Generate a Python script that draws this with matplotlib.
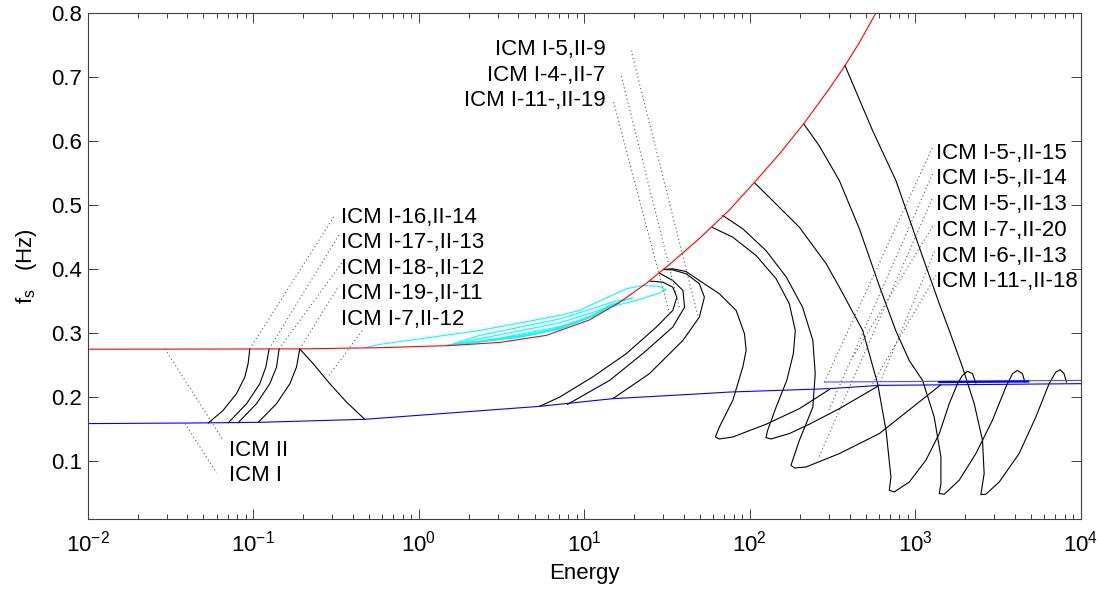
import numpy as np
import matplotlib
matplotlib.use("Agg")
import matplotlib.pyplot as plt

plt.rcParams["font.family"] = ["Liberation Sans", "DejaVu Sans"]
plt.rcParams["mathtext.default"] = "regular"

# backbone curves (energy, frequency in Hz)
icm1_E = [0.01, 0.191, 0.581, 1.537, 3.076, 5.89, 10.74, 16.29, 23.63, 32.64, 49.54,
          75.1, 106.3, 150.5, 211.2, 301.8, 375.4, 458.0, 569.6, 588.0]
icm1_f = [0.2748, 0.2753, 0.2772, 0.2805, 0.2854, 0.2964, 0.3205, 0.3478, 0.3774,
          0.4070, 0.4475, 0.4919, 0.5348, 0.5792, 0.6263, 0.6813, 0.7171, 0.7530,
          0.7966, 0.8028]

icm2_E = [0.01, 0.0415, 0.1096, 0.4716, 5.366, 14.86, 49.54, 75.1, 301.8, 604.5, 10000]
icm2_f = [0.1588, 0.1597, 0.1608, 0.1655, 0.1857, 0.1977, 0.2052, 0.2080, 0.2133,
          0.2184, 0.2211]

icm2b_E = [282, 10000]
icm2b_f = [0.2236, 0.2262]
icm2c_E = [1390, 4800]
icm2c_f = [0.2236, 0.2245]

# low energy branches (black)
b1_E = [0.0535, 0.0658, 0.0792, 0.0889, 0.0931, 0.0953]
b1_f = [0.1597, 0.1795, 0.2055, 0.2314, 0.2523, 0.2753]
b2_E = [0.0706, 0.0912, 0.1096, 0.1191, 0.1247]
b2_f = [0.1600, 0.1899, 0.2211, 0.247, 0.2753]
b3_E = [0.0811, 0.1047, 0.1259, 0.1383, 0.1433]
b3_f = [0.1602, 0.1899, 0.2211, 0.247, 0.2753]
b4_E = [0.1071, 0.1383, 0.1665, 0.1825, 0.191]
b4_f = [0.1607, 0.1899, 0.2211, 0.247, 0.2753]
b5_E = [0.191, 0.230, 0.290, 0.3655, 0.4716]
b5_f = [0.2753, 0.2523, 0.2211, 0.1924, 0.1655]

# middle branches
m1_E = [5.37, 7.10, 11.2, 17.9, 27.2, 34.2, 36.2, 34.2, 29.8, 25.0]
m1_f = [0.1857, 0.2002, 0.2314, 0.2678, 0.3093, 0.3353, 0.356, 0.3716, 0.3794, 0.381]
m2_E = [7.91, 14.2, 22.5, 34.2, 40.3, 39.4, 34.2, 28.4]
m2_f = [0.1888, 0.2262, 0.2678, 0.3093, 0.3404, 0.3665, 0.382, 0.3935]
m3_E = [14.86, 24.7, 39.4, 49.5, 53.1, 49.5, 41.2, 34.2, 30.06]
m3_f = [0.1977, 0.2366, 0.2886, 0.3249, 0.356, 0.3769, 0.3925, 0.3985, 0.3992]
m4_E = [30.06, 34.2, 41.2, 49.5, 65.4, 82.6, 92.7, 94.9, 90.6, 78.8, 65.4, 61.9, 65.4,
        78.8, 125, 199, 302]
m4_f = [0.3992, 0.4003, 0.396, 0.382, 0.3613, 0.3353, 0.299, 0.273, 0.247, 0.195,
        0.1535, 0.1379, 0.1348, 0.1379, 0.1577, 0.1821, 0.2120]

# high energy branches
r1_E = [59.1, 78.7, 109, 144, 173, 188, 183, 167, 144, 128, 125, 134, 173, 228, 347, 604.5]
r1_f = [0.465, 0.4496, 0.421, 0.3847, 0.3457, 0.304, 0.2678, 0.2262, 0.1846, 0.1483,
        0.1369, 0.1348, 0.1432, 0.1577, 0.1821, 0.2184]
r2_E = [68.6, 90.6, 125, 166, 208, 240, 248, 240, 199, 177, 186, 218, 347, 605, 1426]
r2_f = [0.4834, 0.4626, 0.4288, 0.3872, 0.3404, 0.2886, 0.2367, 0.1846, 0.1327,
        0.0938, 0.0896, 0.0911, 0.112, 0.1432, 0.2195]
r3_E = [106.3, 137, 199, 289, 347, 480, 591, 664, 711, 695, 745, 918, 1156, 1393, 1600,
        1795, 1923, 2061, 2211, 2317]
r3_f = [0.5348, 0.5067, 0.4651, 0.4081, 0.3716, 0.3041, 0.2211, 0.1483, 0.0755, 0.0548,
        0.0522, 0.0677, 0.1016, 0.1432, 0.1899, 0.2211, 0.234, 0.2403, 0.2367, 0.222]
r4_E = [211.2, 262, 347, 458, 604, 760, 918, 1104, 1298, 1425, 1425, 1393, 1493, 1837,
        2317, 2917, 3516, 3855, 4131, 4427, 4581]
r4_f = [0.6263, 0.5924, 0.5379, 0.463, 0.374, 0.304, 0.257, 0.2262, 0.169, 0.1067,
        0.0652, 0.0497, 0.0486, 0.0704, 0.112, 0.1639, 0.2158, 0.2367, 0.2418, 0.2367,
        0.2236]
r5_E = [375.4, 551, 762, 1054, 1393, 1600, 1923, 2264, 2541, 2600, 2483, 2661, 3206,
        4227, 5333, 6415, 7042, 7475, 7902, 8163]
r5_f = [0.7171, 0.6158, 0.5379, 0.434, 0.3458, 0.3041, 0.247, 0.1899, 0.1327, 0.0808,
        0.0481, 0.0486, 0.0677, 0.112, 0.169, 0.2211, 0.2392, 0.2429, 0.2367, 0.2236]

# cyan loops
c1_E = [0.47, 0.58, 2.33, 7.08, 9.36, 11.2, 17.9, 22.5, 28.4, 31.2, 28.4, 20.6, 14.2,
        11.2, 7.1, 4.0, 1.5]
c1_f = [0.2770, 0.2823, 0.304, 0.3275, 0.3353, 0.345, 0.3691, 0.3743, 0.3727, 0.3676,
        0.3623, 0.351, 0.3404, 0.3265, 0.3075, 0.2955, 0.2815]
c2_E = [1.5, 2.33, 7.1, 11.2, 15, 19.6, 17, 14, 11.2, 7.1, 4, 1.5]
c2_f = [0.2805, 0.2963, 0.322, 0.338, 0.349, 0.355, 0.350, 0.343, 0.327, 0.307, 0.294,
        0.2805]
c3_E = [1.5, 2.33, 7.1, 11.2, 16.3, 14.5, 11.2, 7.1, 4, 1.5]
c3_f = [0.2805, 0.2912, 0.316, 0.332, 0.347, 0.342, 0.3255, 0.306, 0.293, 0.2805]
c4_E = [1.5, 2.33, 7.1, 11.2, 14, 12.5, 9, 5, 1.5]
c4_f = [0.2805, 0.2859, 0.310, 0.327, 0.338, 0.334, 0.316, 0.298, 0.2805]

# annotations: label text, text position, pointer line (start, end)
labels = ["ICM II", "ICM I",
          "ICM I-16,II-14", "ICM I-17-,II-13", "ICM I-18-,II-12", "ICM I-19-,II-11",
          "ICM I-7,II-12",
          "ICM I-5,II-9", "ICM I-4-,II-7", "ICM I-11-,II-19",
          "ICM I-5-,II-15", "ICM I-5-,II-14", "ICM I-5-,II-13", "ICM I-7-,II-20",
          "ICM I-6-,II-13", "ICM I-11-,II-18"]
label_E = [0.0711, 0.0711,
           0.341, 0.341, 0.341, 0.341, 0.341,
           13.4, 13.4, 13.4,
           1331, 1331, 1331, 1331, 1331, 1331]
label_f = [0.121, 0.0818,
           0.4838, 0.4449, 0.405, 0.3657, 0.3249,
           0.7456, 0.7057, 0.6662,
           0.5847, 0.5446, 0.5041, 0.4642, 0.4237, 0.3841]
label_ha = ["left"] * 7 + ["right"] * 3 + ["left"] * 6

ptr_E0 = [0.0293, 0.0387,
          0.0953, 0.1247, 0.1433, 0.191, 0.287,
          48.4, 37.5, 32.7,
          282, 300, 262, 420, 600, 551]
ptr_f0 = [0.2753, 0.1588,
          0.2753, 0.2753, 0.2753, 0.2753, 0.234,
          0.3275, 0.3404, 0.3302,
          0.2236, 0.1800, 0.1075, 0.2630, 0.2184, 0.2211]
ptr_E1 = [0.0658, 0.0601,
          0.3105, 0.3334, 0.3575, 0.3254, 0.46,
          19.2, 16.7, 14.9,
          1270, 1270, 1260, 1290, 1310, 1330]
ptr_f1 = [0.1327, 0.0818,
          0.4834, 0.4553, 0.4159, 0.3716, 0.3052,
          0.7405, 0.7015, 0.6637,
          0.5898, 0.5483, 0.5093, 0.4693, 0.4288, 0.3898]

fig = plt.figure(figsize=(11.06, 5.93), dpi=100)
ax = fig.add_axes([0.0793, 0.1248, 0.8981, 0.8541])

lw = 0.8
for E, f in [(b1_E, b1_f), (b2_E, b2_f), (b3_E, b3_f), (b4_E, b4_f), (b5_E, b5_f),
             (m1_E, m1_f), (m2_E, m2_f), (m3_E, m3_f), (m4_E, m4_f),
             (r1_E, r1_f), (r2_E, r2_f), (r3_E, r3_f), (r4_E, r4_f), (r5_E, r5_f)]:
    ax.plot(E, f, color="k", lw=lw)

for E, f in [(c1_E, c1_f), (c2_E, c2_f), (c3_E, c3_f), (c4_E, c4_f)]:
    ax.plot(E, f, color="#00ffff", lw=lw)

ax.plot(icm1_E, icm1_f, color="#ff0000", lw=lw)
ax.plot(icm2_E, icm2_f, color="#0000ff", lw=lw)
ax.plot(icm2b_E, icm2b_f, color="#4d4dff", lw=lw)
ax.plot(icm2c_E, icm2c_f, color="#0000ff", lw=1.6)

for i in range(len(labels)):
    ax.plot([ptr_E0[i], ptr_E1[i]], [ptr_f0[i], ptr_f1[i]], color="0.35", lw=0.8,
            dashes=(1, 2.5))
    ax.text(label_E[i], label_f[i], labels[i], ha=label_ha[i], va="center_baseline",
            fontsize=16)

ax.set_xscale("log")
ax.set_xlim(1e-2, 1e4)
ax.set_ylim(0.01, 0.8)
ax.set_xticks([1e-2, 1e-1, 1e0, 1e1, 1e2, 1e3, 1e4])
ax.set_yticks([0.1, 0.2, 0.3, 0.4, 0.5, 0.6, 0.7, 0.8])
ax.set_yticklabels(["0.1", "0.2", "0.3", "0.4", "0.5", "0.6", "0.7", "0.8"])
ax.tick_params(which="both", direction="in", top=True, right=True, labelsize=16,
               color="#404040", width=0.7)
ax.tick_params(which="major", length=7)
ax.tick_params(which="minor", length=3.5)
ax.tick_params(axis="x", pad=8)
ax.tick_params(axis="y", pad=4)
for s in ax.spines.values():
    s.set_color("#404040")
    s.set_linewidth(0.8)

ax.set_xlabel("Energy", fontsize=16, labelpad=5)
ax.set_ylabel("f$_{s}$   (Hz)", fontsize=16, labelpad=9)

fig.savefig("out.png", dpi=100)
